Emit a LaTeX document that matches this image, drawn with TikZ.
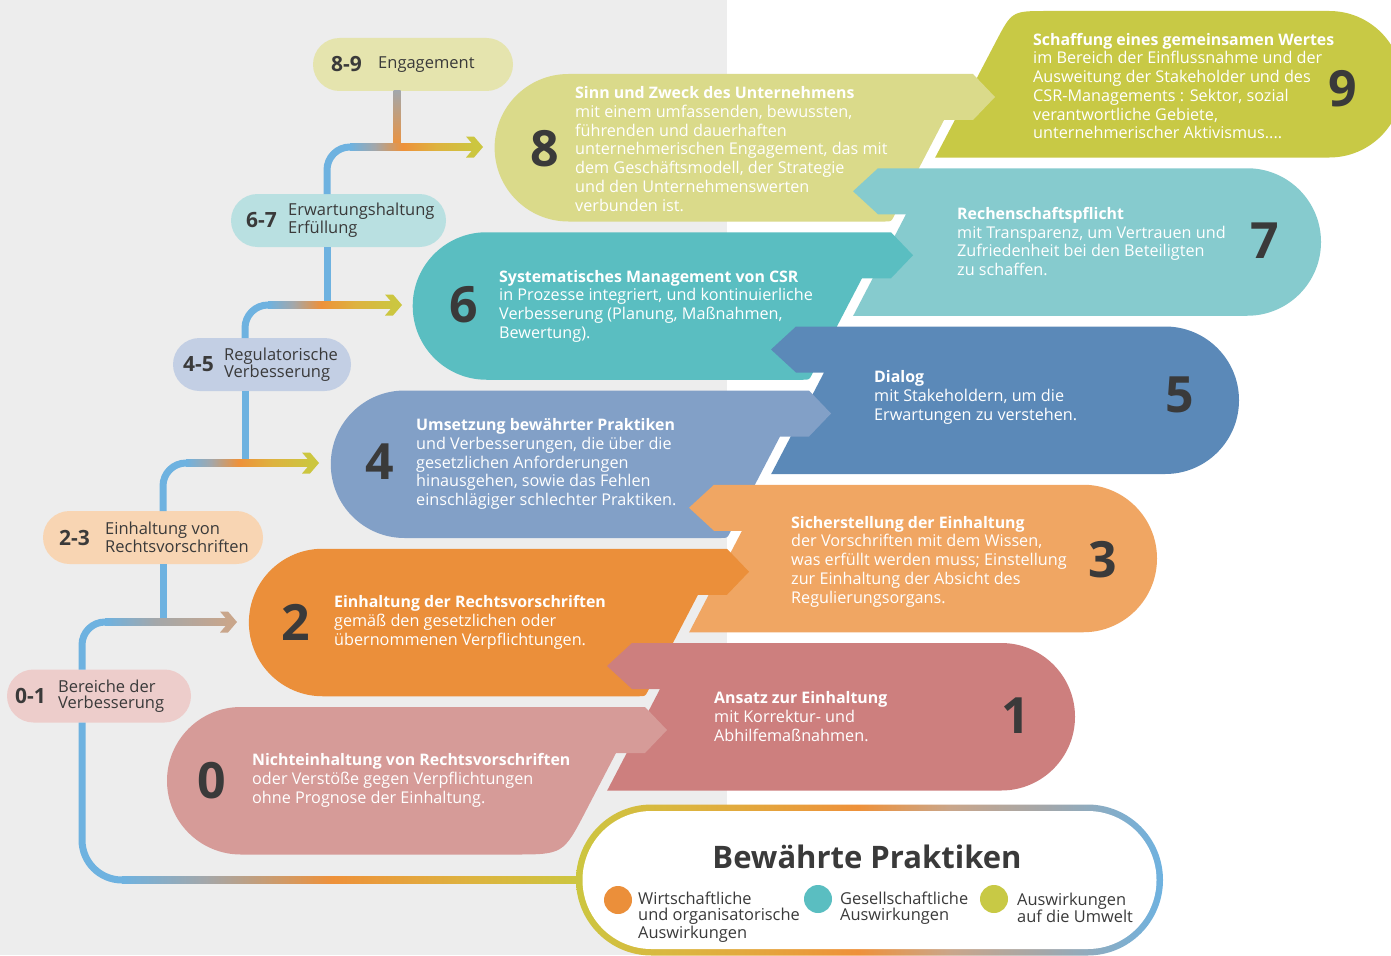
\documentclass[tikz,border=0pt]{standalone}
\usepackage{fontspec}
\setmainfont{Open Sans}
\usetikzlibrary{calc}
\definecolor{bggray}{HTML}{EDEDED}
\definecolor{txt}{HTML}{3A3A3A}
\definecolor{s9}{HTML}{C8C945}
\definecolor{s8}{HTML}{DADA8A}
\definecolor{s7}{HTML}{86CBCE}
\definecolor{s6}{HTML}{5ABEC1}
\definecolor{s5}{HTML}{5B89B8}
\definecolor{s4}{HTML}{82A0C7}
\definecolor{s3}{HTML}{F0A663}
\definecolor{s2}{HTML}{EB8F3A}
\definecolor{s1}{HTML}{CD7F7E}
\definecolor{s0}{HTML}{D69B98}
\definecolor{p89}{HTML}{E5E4AE}
\definecolor{p67}{HTML}{B9E0E1}
\definecolor{p45}{HTML}{C3CFE4}
\definecolor{p23}{HTML}{F8D5B3}
\definecolor{p01}{HTML}{EDCDCB}
\definecolor{cblue}{HTML}{6EB2E0}
\definecolor{cgray}{HTML}{A3A7AA}
\definecolor{corange}{HTML}{EE913A}
\definecolor{cgold}{HTML}{DDB33F}
\definecolor{cyellow}{HTML}{CCC640}
\definecolor{ctan}{HTML}{C9A68B}
\pgfdeclarehorizontalshading{gradA}{100bp}{color(0bp)=(cblue); color(25bp)=(cblue); color(35bp)=(cgray); color(46bp)=(corange); color(60bp)=(cgold); color(75bp)=(cyellow); color(100bp)=(cyellow)}
\pgfdeclarehorizontalshading{gradB}{100bp}{color(0bp)=(cblue); color(25bp)=(cblue); color(45bp)=(cgray); color(75bp)=(ctan); color(100bp)=(ctan)}
\pgfdeclarehorizontalshading{gradC}{100bp}{color(0bp)=(cblue); color(25bp)=(cblue); color(34bp)=(cgray); color(48bp)=(corange); color(63bp)=(cgold); color(75bp)=(cyellow); color(100bp)=(cyellow)}
\pgfdeclarehorizontalshading{gradL}{100bp}{color(0bp)=(cyellow); color(25bp)=(cyellow); color(35bp)=(cgold); color(49bp)=(corange); color(57bp)=(ctan); color(65bp)=(cgray); color(75bp)=(cblue); color(100bp)=(cblue)}
\newcommand{\evenshape}[3]{%
\pgfmathsetmacro{\myYt}{-(707-158.25*#1)}%
\pgfmathsetmacro{\myYb}{\myYt-147.5}%
\pgfmathsetmacro{\myXc}{167+81.9*#1+73.75}%
\pgfmathsetmacro{\myTip}{667+82*#1}%
\pgfmathsetmacro{\myBase}{\myTip-22}%
\pgfmathsetmacro{\myXs}{\myBase-29}%
\pgfmathsetmacro{\myBx}{\myXs-52.8}%
\fill[#2] (\myXc,\myYb) arc[start angle=270,end angle=90,radius=73.75pt] -- (\myBase,\myYt) -- (\myTip,\myYt-23) -- (\myBase,\myYt-46) -- (\myXs,\myYt-46) -- ($(\myBx,\myYb)+(0.4615*#3,0.887*#3)$) .. controls (\myBx,\myYb) .. ($(\myBx,\myYb)+(-#3,0)$) -- cycle;}
\newcommand{\oddshape}[2]{%
\pgfmathsetmacro{\myYt}{-(643-158.25*#1)}%
\pgfmathsetmacro{\myYb}{\myYt-147.5}%
\pgfmathsetmacro{\myXc}{1075+82*#1-73.75}%
\pgfmathsetmacro{\myTip}{607+82*#1}%
\pgfmathsetmacro{\myBase}{\myTip+25}%
\pgfmathsetmacro{\myXs}{\myBase+28}%
\pgfmathsetmacro{\myBx}{\myXs-52.8}%
\fill[#2] (\myBase,\myYt) -- (\myTip,\myYt-23) -- (\myBase,\myYt-46) -- (\myXs,\myYt-46) -- (\myBx,\myYb) -- (\myXc,\myYb) arc[start angle=-90,end angle=90,radius=73.75pt] -- cycle;}
\newcommand{\ttl}[1]{{\bfseries\fontsize{15.9}{18.7}\selectfont #1}}
\tikzset{
 pill/.style={rounded corners=26.5pt, minimum height=53pt, inner sep=0pt, outer sep=0pt},
 pnum/.style={anchor=west, inner sep=0pt, text=txt, font=\bfseries\fontsize{21}{21}\selectfont},
 plab/.style={anchor=west, inner sep=0pt, text=txt, align=left, font=\fontsize{16.5}{16}\selectfont},
 body/.style={anchor=west, inner sep=0pt, text=white, align=left, font=\fontsize{16.2}{18.7}\selectfont},
 bignum/.style={inner sep=0pt, text=txt, font=\bfseries\fontsize{50}{50}\selectfont},
 conn/.style={line width=7pt, draw=cblue},
 chev/.pic={\path[pic actions] (-17,10.5) -- (-9,10.5) -- (0,0) -- (-9,-10.5) -- (-17,-10.5) -- (-8,0) -- cycle;},
 legtxt/.style={anchor=west, inner sep=0pt, text=txt, align=left, font=\fontsize{16.4}{16}\selectfont},
 dot/.style={circle, minimum size=28pt, inner sep=0pt}
}
\begin{document}
\begin{tikzpicture}[x=1pt,y=1pt]
\useasboundingbox (0,0) rectangle (1391,-955);
\clip (0,0) rectangle (1391,-955);
\fill[white] (0,0) rectangle (1391,-955);
\fill[bggray] (0,0) rectangle (727,-955);
% shape 9
\fill[s9] (935.2,-157.5) -- (995.7,-42.0) .. controls (1011.9,-11) .. (1046.9,-11) -- (1329.25,-11) arc[start angle=90,end angle=-90,radius=73.25pt] -- cycle;
\evenshape{4}{s8}{6}
\oddshape{3}{s7}
\evenshape{3}{s6}{6}
\oddshape{2}{s5}
\evenshape{2}{s4}{6}
\oddshape{1}{s3}
\evenshape{1}{s2}{6}
\oddshape{0}{s1}
\evenshape{0}{s0}{50}
% big numbers
\node[bignum] (n9) at (1343,-89) {9};
\node[bignum] (n8) at (545,-149) {8};
\node[bignum] (n7) at (1265,-241) {7};
\node[bignum] (n6) at (464,-305) {6};
\node[bignum] (n5) at (1180,-395) {5};
\node[bignum] (n4) at (380,-462) {4};
\node[bignum] (n3) at (1103,-560) {3};
\node[bignum] (n2) at (296,-622) {2};
\node[bignum] (n1) at (1016,-716) {1};
\node[bignum] (n0) at (212,-781) {0};
% texts
\node[body] (t9) at (1033,-86) {\ttl{Schaffung eines gemeinsamen Wertes}\\im Bereich der Einflussnahme und der\\Ausweitung der Stakeholder und des\\CSR-Managements : Sektor, sozial\\verantwortliche Gebiete,\\unternehmerischer Aktivismus....};
\node[body] (t8) at (575,-149) {\ttl{Sinn und Zweck des Unternehmens}\\mit einem umfassenden, bewussten,\\führenden und dauerhaften\\unternehmerischen Engagement, das mit\\dem Geschäftsmodell, der Strategie\\und den Unternehmenswerten\\verbunden ist.};
\node[body] (t7) at (957,-241.5) {\ttl{Rechenschaftspflicht}\\mit Transparenz, um Vertrauen und\\Zufriedenheit bei den Beteiligten\\zu schaffen.};
\node[body] (t6) at (499,-306) {\ttl{Systematisches Management von CSR}\\in Prozesse integriert, und kontinuierliche\\Verbesserung (Planung, Maßnahmen,\\Bewertung).};
\node[body] (t5) at (874,-397.5) {\ttl{Dialog}\\mit Stakeholdern, um die\\Erwartungen zu verstehen.};
\node[body] (t4) at (416,-464) {\ttl{Umsetzung bewährter Praktiken}\\und Verbesserungen, die über die\\gesetzlichen Anforderungen\\hinausgehen, sowie das Fehlen\\einschlägiger schlechter Praktiken.};
\node[body] (t3) at (791,-561.5) {\ttl{Sicherstellung der Einhaltung}\\der Vorschriften mit dem Wissen,\\was erfüllt werden muss; Einstellung\\zur Einhaltung der Absicht des\\Regulierungsorgans.};
\node[body] (t2) at (334,-622.5) {\ttl{Einhaltung der Rechtsvorschriften}\\gemäß den gesetzlichen oder\\übernommenen Verpflichtungen.};
\node[body] (t1) at (714,-716.5) {\ttl{Ansatz zur Einhaltung}\\mit Korrektur- und\\Abhilfemaßnahmen.};
\node[body] (t0) at (252,-780.5) {\ttl{Nichteinhaltung von Rechtsvorschriften}\\oder Verstöße gegen Verpflichtungen\\ohne Prognose der Einhaltung.};
% pills
\node[pill, fill=p89, minimum width=200pt] (P89) at (413,-64.5) {};
\node[pill, fill=p67, minimum width=215pt] (P67) at (338.5,-220.5) {};
\node[pill, fill=p45, minimum width=178pt] (P45) at (262,-364.5) {};
\node[pill, fill=p23, minimum width=220pt] (P23) at (153,-537.5) {};
\node[pill, fill=p01, minimum width=184pt] (P01) at (99,-696) {};
\node[pnum] (q89) at (331,-64.5) {8-9};
\node[plab] (l89) at (378,-64.5) {Engagement};
\node[pnum] (q67) at (246,-220.5) {6-7};
\node[plab] (l67) at (288,-220.5) {Erwartungshaltung\\Erfüllung};
\node[pnum] (q45) at (183,-364.5) {4-5};
\node[plab] (l45) at (224,-364.5) {Regulatorische\\Verbesserung};
\node[pnum] (q23) at (59,-537.5) {2-3};
\node[plab] (l23) at (105,-537.5) {Einhaltung von\\Rechtsvorschriften};
\node[pnum] (q01) at (15,-696) {0-1};
\node[plab] (l01) at (58,-696) {Bereiche der\\Verbesserung};
% legend
\node[pill, rounded corners=75.5pt, minimum width=587pt, minimum height=151pt, shade, shading=gradL] (LG) at (869.5,-880) {};
\node[pill, rounded corners=69pt, minimum width=574pt, minimum height=138pt, fill=white] (LGin) at (LG.center) {};
\node[inner sep=0pt, text=txt, font=\bfseries\fontsize{31}{31}\selectfont] (LT) at (867,-857) {Bewährte Praktiken};
\node[dot, fill=s2] (D1) at (618,-900) {};
\node[dot, fill=s6] (D2) at (818,-899) {};
\node[dot, fill=s9] (D3) at (994,-899) {};
\node[legtxt] (E1) at (638,-917) {Wirtschaftliche\\und organisatorische\\Auswirkungen};
\node[legtxt] (E2) at (840,-908) {Gesellschaftliche\\Auswirkungen};
\node[legtxt] (E3) at (1017,-908) {Auswirkungen\\auf die Umwelt};
% connector coordinates
\coordinate (k8) at (397,-147);
\coordinate (j8) at (327,-147); \coordinate (a8) at (483,-147);
\coordinate (j6) at (245,-305); \coordinate (a6) at (402,-305);
\coordinate (j4) at (163,-463); \coordinate (a4) at (319,-463);
\coordinate (j2) at (82,-622); \coordinate (a2) at (237,-622);
\coordinate (j0) at (82,-880);
% verticals joining from above
\shade[top color=cgray, bottom color=corange] ($(P89.south -| k8)+(-3.5,0)$) rectangle ($(k8)+(3.5,0)$);
\draw[conn] (P67.south -| j8) -- (j8 |- a6);
\draw[conn] (P45.south -| j6) -- (j6 |- a4);
\draw[conn] (P23.south -| j4) -- (j4 |- a2);
% main connectors
\draw[conn, rounded corners=23pt] (P67.north -| j8) |- ($(j8)+(30,0)$);
\shade[shading=gradA] ($(j8)+(23,3.5)$) rectangle ($(a8)+(-8,-3.5)$);
\pic[fill=cyellow] at (a8) {chev};
\draw[conn, rounded corners=23pt] (P45.north -| j6) |- ($(j6)+(30,0)$);
\shade[shading=gradA] ($(j6)+(23,3.5)$) rectangle ($(a6)+(-8,-3.5)$);
\pic[fill=cyellow] at (a6) {chev};
\draw[conn, rounded corners=23pt] (P23.north -| j4) |- ($(j4)+(30,0)$);
\shade[shading=gradA] ($(j4)+(23,3.5)$) rectangle ($(a4)+(-8,-3.5)$);
\pic[fill=cyellow] at (a4) {chev};
\draw[conn, rounded corners=23pt] (P01.north -| j2) |- ($(j2)+(30,0)$);
\shade[shading=gradB] ($(j2)+(23,3.5)$) rectangle ($(a2)+(-8,-3.5)$);
\pic[fill=ctan] at (a2) {chev};
\draw[conn, rounded corners=40pt] (P01.south -| j0) |- ($(j0)+(48,0)$);
\shade[shading=gradC] ($(j0)+(40,3.5)$) rectangle ($(LG.west)+(4,-3.5)$);
\end{tikzpicture}
\end{document}
